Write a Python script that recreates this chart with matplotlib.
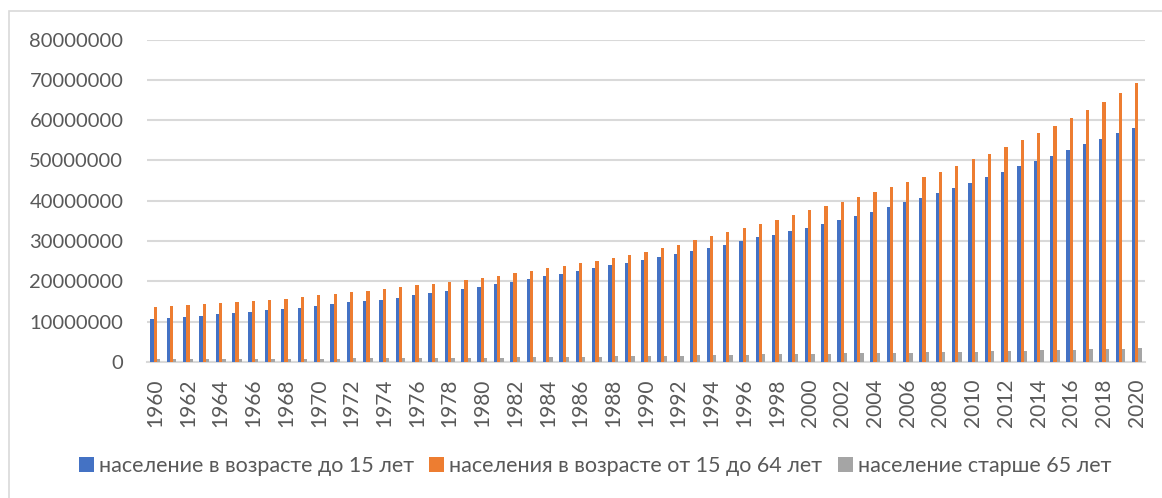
import numpy as np
import matplotlib
matplotlib.use('Agg')
import matplotlib.pyplot as plt
from matplotlib.patches import Rectangle

plt.rcParams['font.family'] = ['Lato', 'DejaVu Sans']

years = list(range(1960, 2021))

# values in millions
under_15 = [10.6, 10.9, 11.2, 11.5, 11.8, 12.1, 12.5, 12.8, 13.1, 13.5,
            13.9, 14.4, 14.8, 15.2, 15.5, 15.9, 16.5, 17.0, 17.5, 18.1,
            18.6, 19.3, 19.9, 20.6, 21.3, 21.9, 22.6, 23.3, 24.0, 24.6,
            25.3, 26.1, 26.9, 27.6, 28.4, 29.1, 30.0, 30.9, 31.6, 32.4,
            33.2, 34.3, 35.3, 36.3, 37.3, 38.5, 39.6, 40.8, 41.9, 43.2,
            44.5, 45.8, 47.1, 48.5, 49.9, 51.2, 52.6, 54.0, 55.4, 56.8,
            58.1]
age_15_64 = [13.6, 13.9, 14.2, 14.4, 14.7, 14.9, 15.1, 15.4, 15.7, 16.2,
             16.6, 16.9, 17.3, 17.7, 18.1, 18.6, 19.0, 19.4, 19.9, 20.4,
             20.9, 21.4, 22.0, 22.6, 23.3, 23.9, 24.5, 25.1, 25.9, 26.6,
             27.4, 28.2, 29.1, 30.2, 31.2, 32.3, 33.3, 34.2, 35.2, 36.5,
             37.6, 38.7, 39.8, 41.0, 42.1, 43.4, 44.6, 45.9, 47.2, 48.7,
             50.3, 51.7, 53.4, 55.1, 56.8, 58.6, 60.5, 62.5, 64.6, 66.8,
             69.2]
over_65 = [0.74, 0.75, 0.76, 0.77, 0.78, 0.79, 0.80, 0.81, 0.82, 0.83,
           0.84, 0.85, 0.87, 0.89, 0.91, 0.93, 0.96, 0.99, 1.02, 1.05,
           1.08, 1.11, 1.14, 1.18, 1.22, 1.26, 1.30, 1.34, 1.38, 1.43,
           1.48, 1.53, 1.58, 1.63, 1.69, 1.75, 1.81, 1.87, 1.93, 1.98,
           2.02, 2.07, 2.12, 2.17, 2.22, 2.28, 2.34, 2.40, 2.46, 2.53,
           2.60, 2.67, 2.74, 2.81, 2.89, 2.97, 3.05, 3.14, 3.23, 3.33,
           3.45]

labels = ['население в возрасте до 15 лет',
          'населения в возрасте от 15 до 64 лет',
          'население старше 65 лет']
colors = ['#4472C4', '#ED7D31', '#A5A5A5']
text_color = '#595959'

fig = plt.figure(figsize=(11.62, 4.98), dpi=100)
fig.patches.append(Rectangle((9 / 1162, -0.1), 1.2, (498 - 11) / 498 + 0.1,
                             transform=fig.transFigure, fill=False,
                             edgecolor='#d9d9d9', linewidth=1.2))

ax = fig.add_axes([147 / 1162, 1 - 362 / 498, (1145 - 147) / 1162, (362 - 39.5) / 498])

x = np.arange(len(years))
w = 0.2
for i, (vals, lab, col) in enumerate(zip([under_15, age_15_64, over_65], labels, colors)):
    ax.bar(x + (i - 1) * w, np.array(vals) * 1e6, width=w, color=col, label=lab,
           zorder=3, linewidth=0)

ax.set_xlim(-0.5, len(years) - 0.5)
ax.set_ylim(0, 80000000)
ax.set_yticks(np.arange(0, 80000001, 10000000))
ax.set_yticklabels([str(v) for v in range(0, 80000001, 10000000)])
ax.grid(axis='y', color='#d9d9d9', linewidth=1.5, zorder=0)
ax.set_xticks(x[::2])
ax.set_xticklabels([str(y) for y in years[::2]], rotation=90, va='top', ha='center')

for s in ['top', 'right', 'left']:
    ax.spines[s].set_visible(False)
ax.spines['bottom'].set_color('#d9d9d9')
ax.spines['bottom'].set_linewidth(1.5)
ax.tick_params(axis='y', length=0, pad=17, labelsize=14.5, labelcolor=text_color)
ax.tick_params(axis='x', length=0, pad=12, labelsize=15, labelcolor=text_color)

handles, labs = ax.get_legend_handles_labels()
fig.legend(handles, labs, loc='center', bbox_to_anchor=(0.512, 1 - 466 / 498), ncol=3,
           frameon=False, fontsize=15.5, labelcolor=text_color, handlelength=0.7,
           handleheight=0.7, handletextpad=0.25, columnspacing=0.7)

fig.savefig('out.png', dpi=100)
